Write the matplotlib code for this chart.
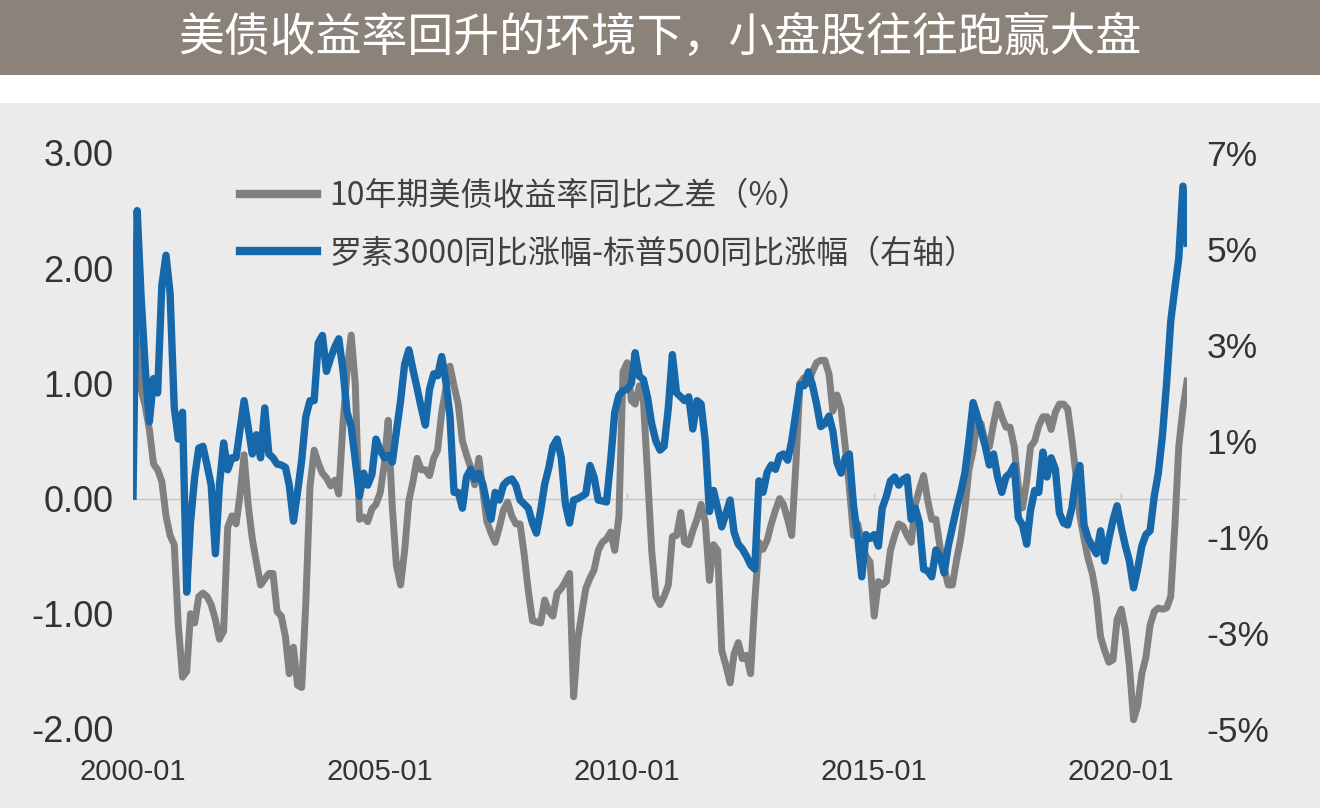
import numpy as np
import pandas as pd
import matplotlib
matplotlib.use('Agg')
import matplotlib.pyplot as plt
from matplotlib.patches import Rectangle
from matplotlib.lines import Line2D

plt.rcParams['font.family'] = ['Noto Sans CJK SC', 'DejaVu Sans']

# 10年期美债收益率同比之差 (pp), monthly from 2000-01
us10y_yoy_diff = [
    1.85, 1.40, 0.95, 0.80, 0.60, 0.30, 0.25, 0.15, -0.15, -0.32, -0.40, -1.10,      # 2000
    -1.55, -1.50, -1.00, -1.08, -0.85, -0.82, -0.85, -0.92, -1.05, -1.22, -1.15, -0.25,  # 2001
    -0.15, -0.22, 0.02, 0.38, -0.05, -0.35, -0.55, -0.75, -0.70, -0.65, -0.65, -0.98,  # 2002
    -1.02, -1.20, -1.52, -1.29, -1.62, -1.64, -0.92, 0.10, 0.42, 0.31, 0.22, 0.18,    # 2003
    0.11, 0.16, 0.04, 0.65, 1.10, 1.42, 1.00, -0.18, -0.16, -0.20, -0.09, -0.05,      # 2004
    0.05, 0.30, 0.68, -0.08, -0.58, -0.75, -0.45, -0.02, 0.15, 0.35, 0.25, 0.25,      # 2005
    0.20, 0.35, 0.42, 0.75, 0.95, 1.15, 0.98, 0.82, 0.50, 0.38, 0.27, 0.12,           # 2006
    0.35, 0.05, -0.20, -0.30, -0.38, -0.25, -0.10, -0.03, -0.15, -0.22, -0.22, -0.48,  # 2007
    -0.80, -1.06, -1.07, -1.08, -0.88, -0.98, -1.02, -0.82, -0.78, -0.72, -0.65, -1.72,  # 2008
    -1.22, -0.98, -0.78, -0.69, -0.62, -0.45, -0.38, -0.35, -0.29, -0.45, -0.15, 1.10,  # 2009
    1.18, 0.85, 0.82, 0.98, 0.85, 0.20, -0.45, -0.85, -0.92, -0.85, -0.75, -0.33,     # 2010
    -0.32, -0.12, -0.38, -0.40, -0.28, -0.18, -0.05, -0.20, -0.71, -0.40, -0.45, -1.32,  # 2011
    -1.45, -1.60, -1.35, -1.25, -1.39, -1.36, -1.52, -0.89, -0.38, -0.44, -0.36, -0.22,  # 2012
    -0.10, 0.00, -0.05, -0.18, -0.32, 0.30, 1.00, 1.05, 1.00, 1.10, 1.18, 1.20,       # 2013
    1.20, 1.08, 0.76, 0.90, 0.78, 0.45, 0.10, -0.32, -0.22, -0.38, -0.50, -0.55,      # 2014
    -1.02, -0.72, -0.75, -0.72, -0.45, -0.32, -0.22, -0.24, -0.32, -0.38, -0.05, 0.08,  # 2015
    0.20, -0.02, -0.18, -0.18, -0.42, -0.60, -0.75, -0.75, -0.53, -0.35, -0.09, 0.25,  # 2016
    0.42, 0.68, 0.65, 0.48, 0.45, 0.65, 0.82, 0.71, 0.62, 0.62, 0.45, 0.10,           # 2017
    -0.08, 0.15, 0.45, 0.50, 0.63, 0.71, 0.71, 0.60, 0.75, 0.82, 0.82, 0.78,          # 2018
    0.51, 0.20, -0.15, -0.35, -0.52, -0.65, -0.85, -1.20, -1.32, -1.42, -1.40, -1.05,  # 2019
    -0.96, -1.15, -1.45, -1.92, -1.80, -1.52, -1.38, -1.10, -0.98, -0.95, -0.96, -0.95,  # 2020
    -0.85, -0.22, 0.45, 0.78, 1.02,                                                   # 2021
]

# 罗素3000同比涨幅-标普500同比涨幅 (%), right axis
r3000_minus_spx = [
    -0.15, 5.80, 4.00, 2.50, 1.40, 2.30, 2.00, 4.24, 4.87, 4.08, 1.69, 1.04,          # 2000
    1.60, -2.15, -0.70, 0.25, 0.85, 0.89, 0.50, 0.08, -1.35, 0.08, 0.96, 0.40,        # 2001
    0.65, 0.65, 1.21, 1.84, 1.29, 0.73, 1.13, 0.65, 1.69, 0.73, 0.65, 0.52,           # 2002
    0.50, 0.45, 0.08, -0.67, -0.07, 0.60, 1.50, 1.84, 1.84, 3.04, 3.20, 2.45,         # 2003
    2.73, 2.96, 3.13, 2.48, 1.60, 1.30, 0.60, -0.15, 0.33, 0.08, 0.30, 1.04,          # 2004
    0.81, 0.65, 0.70, 0.56, 1.20, 1.84, 2.60, 2.90, 2.48, 2.10, 1.69, 1.33,           # 2005
    2.08, 2.40, 2.36, 2.76, 2.25, 1.52, -0.07, -0.07, -0.40, 0.25, 0.41, 0.20,        # 2006
    0.33, 0.08, -0.31, -0.63, -0.07, -0.23, 0.08, 0.17, 0.21, 0.08, -0.23, -0.31,     # 2007
    -0.40, -0.71, -0.92, -0.45, 0.10, 0.45, 0.89, 1.04, 0.65, -0.31, -0.71, -0.23,    # 2008
    -0.20, -0.15, -0.10, 0.49, 0.25, -0.23, -0.25, -0.27, 0.60, 1.60, 1.95, 2.05,     # 2009
    2.08, 2.20, 2.84, 2.35, 2.28, 1.90, 1.36, 1.00, 0.81, 0.89, 1.69, 2.80,           # 2010
    2.00, 1.92, 1.84, 1.92, 1.25, 1.84, 1.77, 1.00, -0.47, -0.03, -0.40, -0.79,       # 2011
    -0.51, -0.23, -0.90, -1.15, -1.25, -1.40, -1.58, -1.67, 0.17, -0.07, 0.35, 0.50,  # 2012
    0.41, 0.69, 0.73, 0.60, 1.00, 1.60, 2.17, 2.15, 2.44, 2.17, 1.77, 1.30,           # 2013
    1.36, 1.52, 1.21, 0.55, 0.33, 0.65, 0.73, -0.35, -1.00, -1.83, -0.95, -1.03,      # 2014
    -0.95, -1.19, -0.40, -0.15, 0.17, 0.25, 0.08, 0.20, 0.25, -0.63, -0.40, -0.71,    # 2015
    -1.67, -1.71, -1.83, -1.27, -1.40, -1.75, -1.19, -0.79, -0.40, -0.07, 0.33, 1.00,  # 2016
    1.80, 1.52, 1.21, 0.89, 0.50, 0.73, 0.25, -0.07, 0.25, 0.33, 0.49, -0.60,         # 2017
    -0.75, -1.15, -0.45, -0.03, -0.07, 0.77, 0.25, 0.65, 0.41, -0.50, -0.71, -0.75,   # 2018
    -0.40, 0.25, 0.49, -0.75, -1.03, -1.19, -1.35, -0.87, -1.50, -1.05, -0.65, -0.35,  # 2019
    -0.80, -1.19, -1.50, -2.06, -1.67, -1.19, -0.95, -0.87, -0.15, 0.33, 1.13, 2.20,  # 2020
    3.50, 4.20, 4.80, 6.31, 5.12,                                                     # 2021
]

tick_dates = ['2000-01-01', '2005-01-01', '2010-01-01', '2015-01-01', '2020-01-01']
tick_labels = ['2000-01', '2005-01', '2010-01', '2015-01', '2020-01']
left_ticks = [-2, -1, 0, 1, 2, 3]
right_ticks = [-5, -3, -1, 1, 3, 5, 7]

months = pd.date_range('2000-01-01', periods=len(us10y_yoy_diff), freq='MS')

W, H = 1320, 808
fig = plt.figure(figsize=(W / 100, H / 100), dpi=100)
fig.patch.set_facecolor('#ebebeb')
fig.patches.append(Rectangle((0, 1 - 103 / H), 1, 28 / H, transform=fig.transFigure,
                             facecolor='white', edgecolor='none'))
fig.patches.append(Rectangle((0, 1 - 75 / H), 1, 75 / H, transform=fig.transFigure,
                             facecolor='#8b837a', edgecolor='none'))
fig.text(0.5, 1 - 38 / H, '美债收益率回升的环境下，小盘股往往跑赢大盘',
         ha='center', va='center', color='white', fontsize=33, fontweight='medium')

ax = fig.add_axes([133 / W, 79 / H, 1054 / W, 576 / H])
ax.set_facecolor('none')
ax2 = ax.twinx()

grey = '#808080'
blue = '#1668aa'
ax.axhline(0, color='#c4c4c4', lw=1, zorder=1)
tick_pos = pd.to_datetime(tick_dates)
ax.vlines(tick_pos, 0, 0.05, color='#c4c4c4', lw=1, zorder=1)
ax.plot(months, us10y_yoy_diff, color=grey, lw=5, solid_joinstyle='round', zorder=2)
ax2.plot(months, r3000_minus_spx, color=blue, lw=5.3, solid_joinstyle='round', zorder=3)

ax.set_xlim(months[0], months[-1])
ax.set_ylim(-2, 3)
ax2.set_ylim(-5, 7)

ax.set_xticks(tick_pos)
ax.set_xticklabels(tick_labels)
ax.set_yticks(left_ticks)
ax.set_yticklabels([f'{v:.2f}' for v in left_ticks])
ax2.set_yticks(right_ticks)
ax2.set_yticklabels([f'{v}%' for v in right_ticks])

for a in (ax, ax2):
    for s in a.spines.values():
        s.set_visible(False)
ax.tick_params(axis='x', length=0, pad=21, labelsize=21, labelcolor='#333333')
ax.tick_params(axis='y', length=0, pad=14, labelsize=26, labelcolor='#333333')
ax2.tick_params(axis='y', length=0, pad=14, labelsize=25.5, labelcolor='#333333')
for lab in ax.get_xticklabels() + ax.get_yticklabels() + ax2.get_yticklabels():
    lab.set_fontfamily('Liberation Sans')

handles = [Line2D([], [], color=grey, lw=6), Line2D([], [], color=blue, lw=6)]
labels = ['10年期美债收益率同比之差（%）', '罗素3000同比涨幅-标普500同比涨幅（右轴）']
leg = ax2.legend(handles, labels, loc='upper left', bbox_to_anchor=(107 / 1054, 0.953),
                 frameon=False, fontsize=23, handlelength=2.4, handletextpad=0.4,
                 labelspacing=0.8, borderpad=0, borderaxespad=0)
for t in leg.get_texts():
    t.set_color('#404040')

fig.savefig('out.png', dpi=100, facecolor=fig.get_facecolor())
